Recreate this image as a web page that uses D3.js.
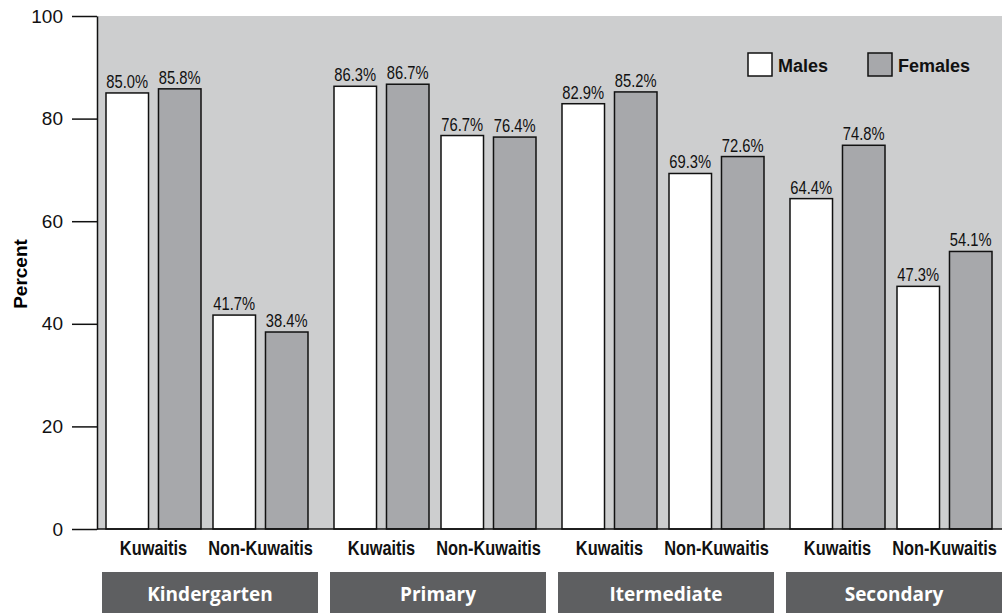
<!DOCTYPE html>
<html>
<head>
  <meta charset="utf-8">
  <style type="text/css">
    body { margin: 0; background: #fff; }
    svg { display: block; }
    .axis text { font-family: "Liberation Sans", Arial, sans-serif; font-size: 19px; fill: #111; }
    .axis path, .axis line { stroke: #111; stroke-width: 1.5px; }
    .val { font-family: "Liberation Sans", Arial, sans-serif; font-size: 18px; fill: #111; }
    .sub { font-family: "Liberation Sans", Arial, sans-serif; font-weight: bold; font-size: 20px; fill: #111; }
    .grp { font-family: "Open Sans", sans-serif; font-weight: bold; font-size: 19px; fill: #fff; }
    .legend text { font-family: "Liberation Sans", Arial, sans-serif; font-weight: bold; font-size: 18px; fill: #111; }
  </style>
</head>
<body>
  <script src="https://d3js.org/d3.v7.min.js"></script>
  <script>
    // data
    var levels = ["Kindergarten", "Primary", "Itermediate", "Secondary"];
    var nationality = ["Kuwaitis", "Non-Kuwaitis"];
    var sexes = ["Males", "Females"];
    var males   = [85.0, 41.7, 86.3, 76.7, 82.9, 69.3, 64.4, 47.3];
    var females = [85.8, 38.4, 86.7, 76.4, 85.2, 72.6, 74.8, 54.1];
    var yTicks = [0, 20, 40, 60, 80, 100];

    var W = 1002, H = 613;
    var plotLeft = 97, plotTop = 16, plotBottom = 529;
    var narrow = 0.82; // squeeze for condensed-looking labels

    var colors = { "Males": "#ffffff", "Females": "#a7a8ab" };

    var rows = [];
    levels.forEach(function(l, i) {
      nationality.forEach(function(n, j) {
        var k = i * 2 + j;
        rows.push({ level: l, nat: n, sex: "Males", v: males[k] });
        rows.push({ level: l, nat: n, sex: "Females", v: females[k] });
      });
    });

    var svg = d3.select("body").append("svg")
      .attr("width", W)
      .attr("height", H);

    var x0 = d3.scaleBand().domain(levels).range([plotLeft, plotLeft + 4 * 228]);
    var x1 = d3.scaleBand().domain(nationality).range([9, 211]).paddingInner(12 / 107);
    var x2 = d3.scaleBand().domain(sexes).range([0, 95]).paddingInner(0.19);

    var y = d3.scaleLinear().domain([0, 100]).range([plotBottom, plotTop]);

    // plot background
    svg.append("rect")
      .attr("x", plotLeft).attr("y", plotTop)
      .attr("width", W - plotLeft).attr("height", plotBottom - plotTop)
      .attr("fill", "#cdcecf");

    // bars
    var bars = svg.selectAll(".bar")
      .data(rows)
      .enter().append("g")
      .attr("class", "bar")
      .attr("transform", function(d) {
        return "translate(" + (x0(d.level) + x1(d.nat) + x2(d.sex)) + ",0)";
      });

    bars.append("rect")
      .attr("y", function(d) { return y(d.v); })
      .attr("width", x2.bandwidth())
      .attr("height", function(d) { return plotBottom - y(d.v); })
      .attr("fill", function(d) { return colors[d.sex]; })
      .attr("stroke", "#111")
      .attr("stroke-width", 1.5);

    bars.append("text")
      .attr("class", "val")
      .attr("transform", function(d) {
        return "translate(" + (x2.bandwidth() / 2) + "," + (y(d.v) - 5) + ") scale(" + narrow + ",1)";
      })
      .attr("text-anchor", "middle")
      .text(function(d) { return d.v.toFixed(1) + "%"; });

    // y axis
    var yAxis = d3.axisLeft(y)
      .tickValues(yTicks)
      .tickSize(25)
      .tickSizeOuter(0)
      .tickPadding(9);

    svg.append("g")
      .attr("class", "axis")
      .attr("transform", "translate(" + plotLeft + ",0)")
      .call(yAxis);

    // baseline
    svg.append("line")
      .attr("x1", plotLeft).attr("x2", W)
      .attr("y1", plotBottom).attr("y2", plotBottom)
      .attr("stroke", "#111").attr("stroke-width", 1.5);

    svg.append("text")
      .attr("transform", "translate(27,274) rotate(-90)")
      .attr("text-anchor", "middle")
      .style("font-family", "Liberation Sans, Arial, sans-serif")
      .style("font-weight", "bold")
      .style("font-size", "19px")
      .text("Percent");

    // nationality labels
    levels.forEach(function(l) {
      nationality.forEach(function(n) {
        var cx = x0(l) + x1(n) + x1.bandwidth() / 2;
        svg.append("text")
          .attr("class", "sub")
          .attr("transform", "translate(" + cx + ",555) scale(" + narrow + ",1)")
          .attr("text-anchor", "middle")
          .text(n);
      });
    });

    // level headers
    var hdr = svg.selectAll(".hdr")
      .data(levels)
      .enter().append("g")
      .attr("class", "hdr")
      .attr("transform", function(d) { return "translate(" + (x0(d) + 5) + ",572)"; });

    hdr.append("rect")
      .attr("width", 216)
      .attr("height", 45)
      .attr("fill", "#5e5f61");

    hdr.append("text")
      .attr("class", "grp")
      .attr("x", 108)
      .attr("y", 29)
      .attr("text-anchor", "middle")
      .text(function(d) { return d; });

    // legend
    var legX = [748, 868];
    var leg = svg.selectAll(".legend")
      .data(sexes)
      .enter().append("g")
      .attr("class", "legend")
      .attr("transform", function(d, i) { return "translate(" + legX[i] + ",53)"; });

    leg.append("rect")
      .attr("width", 24).attr("height", 23)
      .attr("fill", function(d) { return colors[d]; })
      .attr("stroke", "#111").attr("stroke-width", 1.5);

    leg.append("text")
      .attr("x", 30).attr("y", 19)
      .text(function(d) { return d; });
  </script>
</body>
</html>
